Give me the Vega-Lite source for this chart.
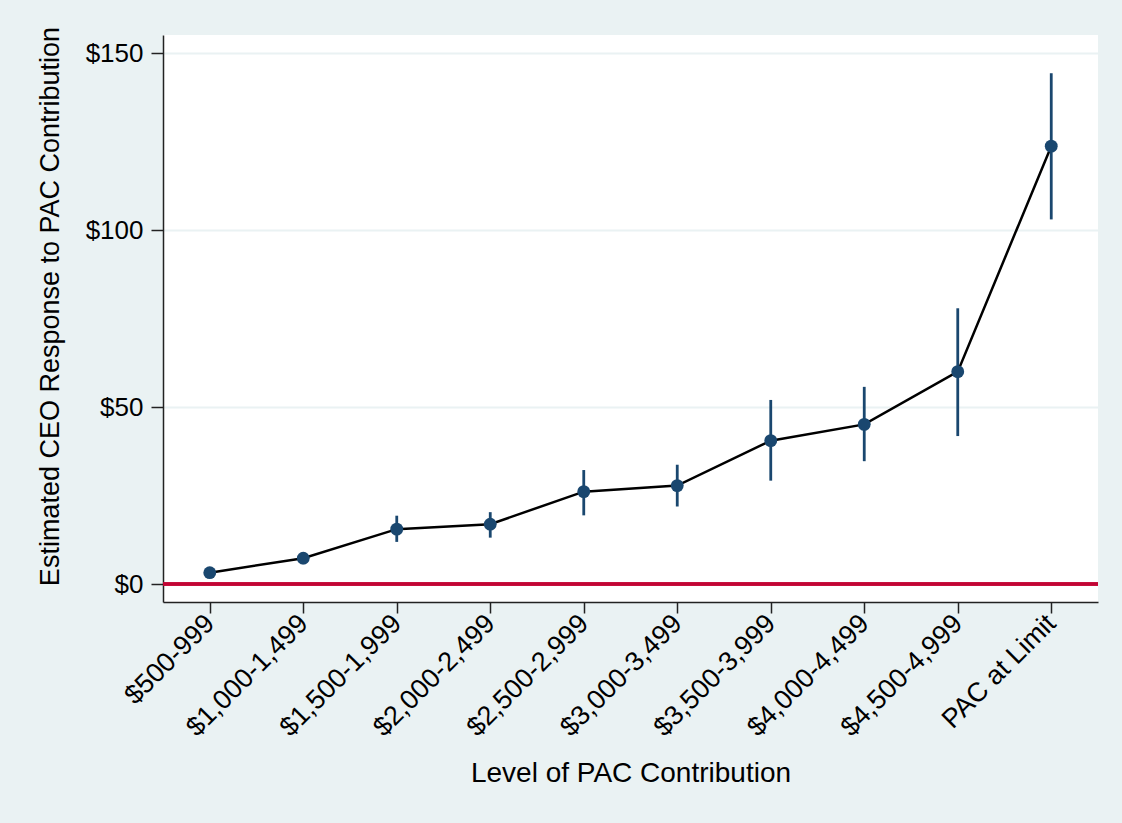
{
  "$schema": "https://vega.github.io/schema/vega-lite/v6.json",
  "width": 935,
  "height": 567,
  "autosize": {"type": "none"},
  "padding": {"left": 163, "top": 35, "right": 24, "bottom": 221},
  "background": "#EAF2F3",
  "config": {
    "font": "Liberation Sans",
    "view": {"stroke": null, "fill": "#FFFFFF"},
    "axis": {
      "labelFont": "Liberation Sans",
      "titleFont": "Liberation Sans",
      "labelColor": "#000000",
      "titleColor": "#000000",
      "titleFontWeight": "normal",
      "domainColor": "#222222",
      "domainWidth": 1.5,
      "tickColor": "#222222",
      "tickWidth": 1.5
    }
  },
  "data": {
    "values": [
      {"level": "$500-999", "est": 3.2, "lo": 1.9, "hi": 4.5},
      {"level": "$1,000-1,499", "est": 7.3, "lo": 5.6, "hi": 9.0},
      {"level": "$1,500-1,999", "est": 15.5, "lo": 11.9, "hi": 19.3},
      {"level": "$2,000-2,499", "est": 16.9, "lo": 13.1, "hi": 20.3},
      {"level": "$2,500-2,999", "est": 26.1, "lo": 19.4, "hi": 32.2},
      {"level": "$3,000-3,499", "est": 27.8, "lo": 21.9, "hi": 33.7},
      {"level": "$3,500-3,999", "est": 40.5, "lo": 29.2, "hi": 52.0},
      {"level": "$4,000-4,499", "est": 45.1, "lo": 34.7, "hi": 55.7},
      {"level": "$4,500-4,999", "est": 60.0, "lo": 41.8, "hi": 77.9},
      {"level": "PAC at Limit", "est": 123.7, "lo": 103.0, "hi": 144.3}
    ]
  },
  "encoding": {
    "x": {
      "field": "level",
      "type": "nominal",
      "sort": null,
      "scale": {"type": "point", "padding": 0.5},
      "axis": {
        "title": "Level of PAC Contribution",
        "titleFontSize": 28,
        "titleX": 467.5,
        "titleY": 171,
        "titleAlign": "center",
        "titleBaseline": "middle",
        "labelFontSize": 27,
        "labelAngle": -45,
        "labelAlign": "right",
        "labelBaseline": "middle",
        "labelPadding": 6,
        "tickSize": 11,
        "grid": false
      }
    },
    "y": {
      "field": "est",
      "type": "quantitative",
      "scale": {"domain": [-5.08, 155.1], "nice": false, "zero": false},
      "axis": {
        "title": "Estimated CEO Response to PAC Contribution",
        "titleFontSize": 27,
        "titleX": -113,
        "titleY": 271,
        "titleAlign": "center",
        "titleBaseline": "middle",
        "titleAngle": -90,
        "labelFontSize": 26,
        "labelPadding": 8,
        "tickSize": 12,
        "values": [0, 50, 100, 150],
        "format": ".0f",
        "labelExpr": "'$' + datum.label",
        "grid": true,
        "gridColor": "#EAF2F3",
        "gridWidth": 2
      }
    }
  },
  "layer": [
    {
      "mark": {"type": "rule", "color": "#C10534", "strokeWidth": 2.4},
      "encoding": {"x": null, "y": {"datum": 0, "type": "quantitative"}}
    },
    {
      "mark": {"type": "rule", "color": "#1A476F", "strokeWidth": 2.8},
      "encoding": {
        "y": {"field": "lo", "type": "quantitative"},
        "y2": {"field": "hi"}
      }
    },
    {
      "mark": {"type": "line", "color": "#000000", "strokeWidth": 2.5},
      "encoding": {}
    },
    {
      "mark": {"type": "circle", "color": "#1A476F", "opacity": 1, "size": 165},
      "encoding": {}
    }
  ]
}
